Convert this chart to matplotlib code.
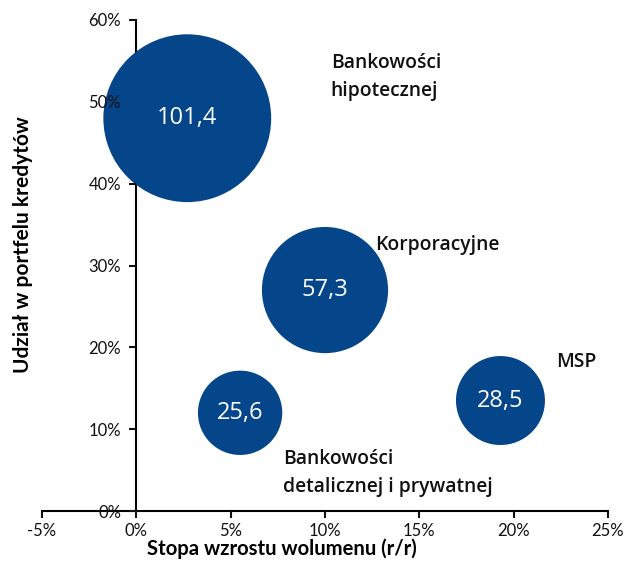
import numpy as np
import matplotlib
matplotlib.use("Agg")
from matplotlib import pyplot as plt

plt.rcParams['font.family'] = ['Lato', 'DejaVu Sans']

# data
segmenty = ['Bankowości\nhipotecznej', 'Korporacyjne', 'Bankowości\ndetalicznej i prywatnej', 'MSP']
wzrost = np.array([2.7, 10.0, 5.5, 19.3])       # % r/r
udzial = np.array([48.0, 27.0, 12.0, 13.5])     # % portfela
wolumen = np.array([101.4, 57.3, 25.6, 28.5])
etykiety = ['101,4', '57,3', '25,6', '28,5']

# where the segment names go (data coords, left edge / vertical centre)
label_pos = [(10.3, 53.0), (12.65, 32.55), (7.8, 4.65), (22.25, 18.25)]

KOLOR = '#05468b'
FONT_LBL = ['Open Sans', 'DejaVu Sans']

fig = plt.figure(figsize=(6.31, 5.61), dpi=100)
ax = fig.add_axes([42/631, 1-511/561, (608-42)/631, (511-20)/561])

ax.scatter(wzrost, udzial, s=wolumen*144, color=KOLOR, zorder=2, linewidths=0)
for x, y, t in zip(wzrost, udzial, etykiety):
    ax.text(x, y, t, ha='center', va='center', color='white', fontsize=17,
            family=FONT_LBL, fontweight='medium', zorder=4)
for (x, y), t in zip(label_pos, segmenty):
    ax.text(x, y, t, ha='left', va='center', fontsize=13.9, fontweight='semibold',
            family=FONT_LBL, color='#111111', linespacing=1.55, zorder=4)

ax.set_xlim(-5, 25)
ax.set_ylim(0, 60)
ax.set_xticks(np.arange(-5, 26, 5))
ax.set_yticks(np.arange(0, 61, 10))
ax.set_xticklabels([f'{v}%' for v in range(-5, 26, 5)])
ax.set_yticklabels([f'{v}%' for v in range(0, 61, 10)])

ax.spines['left'].set_position(('data', 0))
ax.spines['bottom'].set_position(('data', 0))
ax.spines['right'].set_visible(False)
ax.spines['top'].set_visible(False)
for s in ['left', 'bottom']:
    ax.spines[s].set_linewidth(1.5)
    ax.spines[s].set_zorder(1)
ax.yaxis.set_zorder(3)
ax.tick_params(axis='both', labelsize=12, width=1.5, length=5, direction='out',
               colors='#111111')
ax.tick_params(axis='y', pad=6)
ax.tick_params(axis='x', pad=4)
# tick mark at 50% sits inside the big bubble
ax.yaxis.get_major_ticks()[5].tick1line.set_visible(False)

fig.text(0.036, 1-245/561, 'Udział w portfelu kredytów', rotation=90, ha='center',
         va='center', fontsize=15, fontweight='bold')
fig.text(0.447, 0.022, 'Stopa wzrostu wolumenu (r/r)', ha='center', va='center',
         fontsize=14.6, fontweight='bold')

fig.savefig('out.png', dpi=100)
